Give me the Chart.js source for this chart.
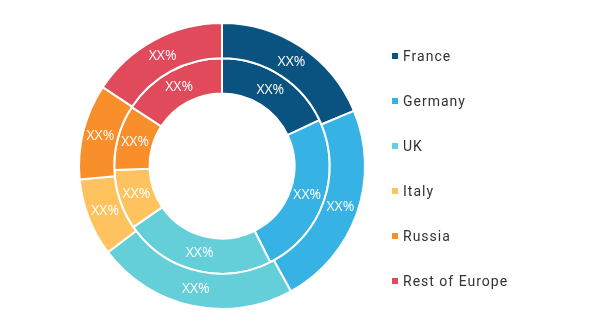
<!DOCTYPE html>
<html>
<head>
<meta charset="utf-8">
<script src="https://cdn.jsdelivr.net/npm/chart.js@4/dist/chart.umd.min.js"></script>
<style>
  html, body { margin: 0; padding: 0; background: #fff; }
  #wrap { position: relative; width: 604px; height: 333px; }
  #legend { position: absolute; left: 392px; top: 0; font-family: Roboto, "DejaVu Sans", sans-serif; font-size: 14px; color: #333; letter-spacing: 1px; }
  .item { position: absolute; left: 0; white-space: nowrap; height: 16px; line-height: 16px; }
  .box { display: inline-block; width: 6px; height: 6px; margin-right: 5px; vertical-align: 2px; }
</style>
</head>
<body>
<div id="wrap">
  <canvas id="chart" width="604" height="333"></canvas>
  <div id="legend"></div>
</div>
<script>
// Régions et parts (en %)
const regions = ['France', 'Germany', 'UK', 'Italy', 'Russia', 'Rest of Europe'];
const outerShare = [18.7, 23.3, 22.7, 8.8, 10.8, 15.7];
const innerShare = [18.0, 24.6, 22.8, 9.0, 9.8, 15.8];
const pointLabel = 'XX%';
const colors = ['#0a5381', '#36b2e4', '#64cfd9', '#fec35e', '#f98f2b', '#e14a5a'];

// Étiquettes "XX%" au centre de chaque arc
const arcLabels = {
  id: 'arcLabels',
  afterDatasetsDraw(chart) {
    const ctx = chart.ctx;
    ctx.save();
    ctx.fillStyle = '#fff';
    ctx.font = '14px "Open Sans", sans-serif';
    ctx.textAlign = 'center';
    ctx.textBaseline = 'middle';
    chart.data.datasets.forEach((ds, i) => {
      chart.getDatasetMeta(i).data.forEach(arc => {
        const p = arc.tooltipPosition();
        ctx.fillText(pointLabel, p.x, p.y);
      });
    });
    ctx.restore();
  }
};

new Chart(document.getElementById('chart'), {
  type: 'doughnut',
  data: {
    labels: regions,
    datasets: [
      { data: outerShare, backgroundColor: colors, borderColor: '#fff', borderWidth: 2 },
      { data: innerShare, backgroundColor: colors, borderColor: '#fff', borderWidth: 2 }
    ]
  },
  options: {
    responsive: false,
    animation: false,
    cutout: '50.7%',
    layout: { padding: { left: 78, right: 238, top: 22, bottom: 23 } },
    plugins: { legend: { display: false }, tooltip: { enabled: false } }
  },
  plugins: [arcLabels]
});

// Légende à droite
const legend = document.getElementById('legend');
regions.forEach((name, i) => {
  const el = document.createElement('div');
  el.className = 'item';
  el.style.top = (48 + i * 45) + 'px';
  el.innerHTML = '<span class="box" style="background:' + colors[i] + '"></span>' + name;
  legend.appendChild(el);
});
</script>
</body>
</html>
